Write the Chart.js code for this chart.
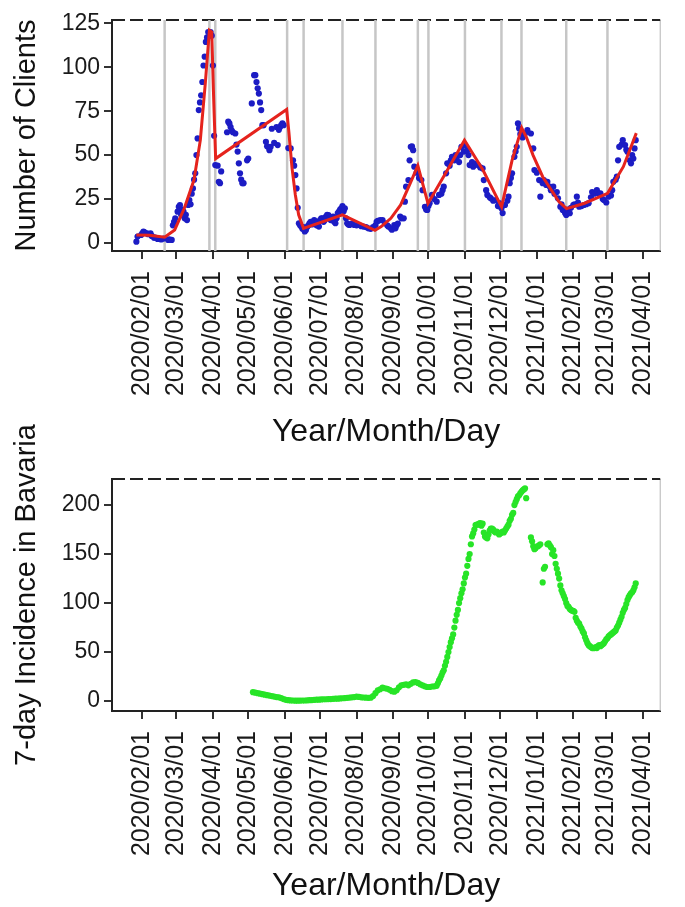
<!DOCTYPE html>
<html>
<head>
<meta charset="utf-8">
<script src="https://cdn.jsdelivr.net/npm/chart.js@4/dist/chart.umd.min.js"></script>
<style>
  html, body { margin: 0; padding: 0; background: #fff; }
  .panel { position: absolute; left: 0; width: 685px; }
  #top { top: 0; height: 453px; }
  #bottom { top: 400px; height: 507px; }
</style>
</head>
<body>
<div class="panel" id="top"><canvas id="clientsChart"></canvas></div>
<div class="panel" id="bottom"><canvas id="incidenceChart"></canvas></div>
<script>
// x values are days counted from 2020/02/01
const tickLabels = [
  "2020/02/01", "2020/03/01", "2020/04/01", "2020/05/01", "2020/06/01",
  "2020/07/01", "2020/08/01", "2020/09/01", "2020/10/01", "2020/11/01",
  "2020/12/01", "2021/01/01", "2021/02/01", "2021/03/01", "2021/04/01",
];
const clientTicks = [0, 25, 50, 75, 100, 125];
const incidenceTicks = [0, 50, 100, 150, 200];

// breakpoints of the segmented fit (grey vertical lines)
const breakDays = [19, 57, 62, 123, 137, 170, 198, 234, 243, 274, 305, 322, 360, 395];

// daily number of clients [day, count]
const clients = [
  [-5, 0.7], [-4, 3.6], [-1, 4.5], [0, 5.5], [1, 6.4], [2, 6], [4, 5.5], [5, 5], [7, 5.5],
  [8, 4], [10, 3], [11, 3], [13, 2.3], [15, 2.3], [16, 2], [18, 2.5], [22, 1.7], [23, 2],
  [25, 1.7], [26, 10], [27, 12], [28, 14], [30, 17.8], [31, 20.6], [32, 21.6], [33, 16],
  [34, 19], [35, 17.8], [36, 14], [37, 16], [38, 13], [39, 21.6], [40, 24.4], [41, 22],
  [42, 28], [43, 31], [44, 36], [45, 39.6], [46, 50], [47, 59.5], [48, 75.6], [49, 80],
  [50, 84], [51, 91.6], [52, 101], [53, 106], [54, 114.4], [55, 117], [56, 120], [58, 120],
  [59, 118], [60, 101], [61, 61], [62, 44.3],
  [64, 44], [65, 34.8], [66, 34], [67, 40.7], [72, 63], [73, 69], [74, 68], [75, 66],
  [76, 64], [77, 63], [79, 62.3], [80, 56], [81, 52], [82, 45.3], [83, 39.6], [84, 36],
  [85, 34], [86, 34], [89, 47], [90, 48], [93, 79.4], [95, 95.5], [96, 95.5], [97, 91.6],
  [98, 88], [99, 85], [100, 80], [101, 75.6], [102, 67], [103, 67], [105, 57.6], [106, 55],
  [107, 54.7], [108, 52.8], [109, 54.7], [110, 65], [112, 57], [114, 66], [115, 55.7],
  [116, 64.4], [117, 66], [118, 67], [119, 68], [120, 67],
  [124, 54], [126, 53.8], [128, 47], [129, 44], [130, 38.6], [131, 31], [132, 20],
  [133, 11.2], [134, 10], [135, 9.3], [136, 8],
  [137, 9], [138, 6.5], [139, 7.4], [140, 9], [141, 10], [142, 11.2], [143, 12], [144, 10.5],
  [145, 12.1], [146, 13], [147, 11], [148, 10], [149, 12], [150, 9.3], [151, 13], [152, 14],
  [153, 14], [154, 12], [155, 13], [156, 15], [157, 16], [158, 15.9], [159, 14], [160, 13],
  [161, 13], [162, 15], [163, 12], [164, 11.2], [165, 14], [166, 17], [167, 17.8], [168, 19],
  [169, 19.7], [170, 21], [171, 18], [172, 19.7], [173, 14], [174, 11.2], [175, 10.5],
  [176, 10.2], [178, 11], [180, 10.2], [182, 10], [184, 10.2], [186, 9.5], [188, 9.3],
  [190, 9], [192, 8.3], [194, 8], [196, 9], [198, 10], [199, 12], [200, 12.5], [202, 13],
  [204, 13], [206, 11.2], [208, 10], [209, 9.3], [211, 8.3], [212, 7.5], [214, 10.2],
  [215, 8.3], [216, 10], [217, 11], [219, 15], [220, 14], [222, 14], [223, 23.5], [224, 32],
  [226, 35.8], [227, 47], [228, 54.7], [229, 55], [230, 52.8], [231, 43.4], [233, 40],
  [235, 37], [237, 35.8], [238, 30], [240, 20.6], [241, 19], [242, 18.8], [243, 21],
  [244, 22.6], [246, 27.3], [248, 25], [250, 23.5], [252, 27.3], [254, 28], [255, 30],
  [256, 32], [258, 39.6], [259, 45.3], [261, 44], [262, 47], [263, 49], [265, 47], [266, 50],
  [267, 48.5], [269, 46], [270, 50], [271, 54.7], [273, 52], [274, 55.7], [276, 52.8],
  [277, 50], [278, 44.3], [280, 46], [281, 43.4], [283, 45], [285, 44.3], [287, 43],
  [289, 42.4], [290, 35.8], [292, 30], [293, 27.3], [295, 26], [296, 25.4], [298, 24],
  [300, 24.4], [302, 21], [303, 22.6], [305, 19.7], [306, 17], [308, 21.6], [310, 24],
  [311, 26.3], [312, 34], [313, 37], [314, 39.6], [316, 49], [317, 52], [318, 54.7],
  [319, 68], [320, 65.2], [321, 62], [323, 60], [325, 62.3], [327, 64.2], [330, 62.3],
  [332, 53.8], [333, 41.5], [335, 40], [337, 35.8], [338, 26.3], [340, 34], [341, 35.8],
  [343, 33], [344, 34.8], [346, 32], [347, 30], [349, 32], [350, 28], [352, 29], [353, 25.4],
  [355, 20.6], [356, 22], [357, 18.8], [359, 17], [360, 15.9], [361, 19], [362, 17],
  [363, 16.9], [364, 20], [366, 21.6], [367, 22], [369, 26.3], [370, 23], [371, 20.6],
  [373, 21], [375, 21.6], [377, 22], [379, 22.6], [381, 26], [382, 29], [384, 28], [386, 30],
  [388, 28], [389, 28.2], [391, 25], [392, 24.4], [394, 23], [396, 26.3], [398, 27],
  [399, 30], [400, 34.8], [402, 36], [403, 37.7], [404, 47], [405, 54.7], [407, 56],
  [408, 58.5], [410, 55.7], [411, 53], [412, 51.9], [414, 47], [415, 45.3], [416, 50],
  [417, 48], [418, 53.8], [419, 58.5],
];

// segmented fit (red line) [day, count]
const fit = [
  [-5, 4.5], [6, 4.3], [19, 3.2], [27.5, 7.4], [35.7, 19.7], [43.9, 35.8], [49.3, 58.5],
  [53.5, 90.7], [57, 121], [59, 120], [60.4, 87], [62.3, 48], [122.6, 76], [124.5, 63],
  [127.2, 42.4], [130, 27.3], [132.8, 16], [136.9, 8.3], [170, 16], [197.6, 7.2],
  [202.9, 9.3], [211.1, 14], [219.4, 21.6], [227.6, 34], [234, 44], [242.6, 22.5],
  [257.8, 40], [273.6, 58.5], [289.3, 41.5], [305.1, 20.5], [314, 47], [322.2, 65.5],
  [326.3, 60], [331.8, 50], [340, 37.7], [345.5, 32], [353.7, 23.5], [360.3, 19.5],
  [375.6, 22.6], [395.1, 28.2], [408.5, 43.4], [419.5, 62.5],
];

// 7-day incidence in Bavaria [day, value]
const incidence = [
  [94, 9], [96, 8.5], [98, 8], [100, 7.5], [102, 7], [104, 6.5], [106, 6], [108, 5.5],
  [110, 5], [112, 4.5], [114, 4], [116, 3.8], [118, 3], [120, 2], [122, 1.2], [124, 0.8],
  [126, 0.6], [128, 0.5], [130, 0.3], [132, 0.3], [134, 0.4], [136, 0.5], [138, 0.5],
  [140, 0.7], [142, 0.8], [144, 1], [146, 1.2], [148, 1.4], [150, 1.4], [152, 1.6],
  [154, 1.8], [156, 1.8], [158, 2], [160, 2], [162, 2.2], [164, 2.4], [166, 2.4], [168, 2.6],
  [170, 2.8], [172, 3], [174, 3.2], [176, 3.5], [178, 3.8], [180, 4], [182, 4.5], [184, 4.2],
  [186, 3.8], [188, 3.6], [190, 3.4], [192, 3.2], [194, 3.4], [196, 5], [198, 8], [200, 10.9],
  [202, 12], [204, 13.7], [206, 13], [208, 12.5], [210, 11.5], [212, 10], [214, 9.5],
  [216, 11], [218, 14], [220, 16], [222, 16.5], [224, 17], [226, 16], [228, 17.5], [230, 19],
  [232, 19.4], [234, 18.5], [236, 17], [238, 16], [240, 15], [242, 14.3], [244, 14.3],
  [246, 14.8], [248, 15], [250, 15.5], [251, 18], [252, 21], [253, 23], [254, 26], [255, 29],
  [256, 31.4], [257, 36], [258, 40], [259, 45], [260, 50], [261, 55], [262, 60], [263, 64],
  [264, 68], [265, 75], [266, 82], [267, 88], [268, 93], [269, 100], [270, 105], [271, 110],
  [272, 114], [273, 120], [274, 126], [275, 130], [276, 138], [277, 145], [278, 150],
  [279, 160], [280, 168], [281, 171], [282, 175], [283, 179.6], [284, 180], [285, 180],
  [286, 181], [287, 181.5], [288, 179], [289, 181], [290, 172], [291, 168], [292, 167],
  [293, 166], [294, 170], [295, 174], [296, 176], [297, 176], [298, 175], [299, 173],
  [300, 172], [301, 173], [302, 172], [303, 170], [304, 171], [305, 172], [306, 173],
  [307, 172], [308, 174], [309, 176], [310, 178], [311, 180], [312, 184], [313, 186],
  [314, 190], [315, 192], [316, 200], [317, 203], [318, 206], [319, 209], [320, 210],
  [321, 212], [322, 213.6], [323, 215], [324, 216], [325, 217], [326, 207],
  [330, 167], [331, 163], [332, 158], [333, 155], [334, 156], [336, 158], [337, 159],
  [338, 160], [340, 121], [341, 135], [342, 137], [344, 160], [345, 161], [346, 159],
  [347, 157], [348, 150], [349, 154], [350, 148], [351, 140], [352, 135], [353, 130],
  [354, 125], [355, 118], [356, 113], [357, 110], [358, 107], [359, 104], [360, 100],
  [361, 97], [362, 96], [363, 94], [364, 93], [365, 92], [366, 92], [367, 91], [368, 85],
  [369, 82], [370, 80], [371, 79], [372, 76], [373, 74], [374, 71], [375, 69], [376, 65],
  [377, 62], [378, 59], [379, 57], [380, 56], [381, 55], [382, 54], [383, 54], [384, 54],
  [385, 55], [386, 54], [387, 56], [388, 57], [389, 56], [390, 57], [391, 58], [392, 59],
  [393, 61], [394, 63], [395, 64], [396, 66], [397, 67], [398, 68], [399, 69], [400, 70],
  [401, 71], [402, 72], [403, 75], [404, 77], [405, 80], [406, 83], [407, 86], [408, 90],
  [409, 93], [410, 95], [411, 99], [412, 103], [413, 106], [414, 108], [415, 110],
  [416, 111], [417, 113], [418, 116], [419, 120],
];

const FONT = "'Liberation Sans', Arial, sans-serif";
const X_MIN = -25.7, X_MAX = 439.8;

function toDay(label) {
  const [y, m, d] = label.split("/").map(Number);
  return (Date.UTC(y, m - 1, d) - Date.UTC(2020, 1, 1)) / 864e5;
}
const tickDays = tickLabels.map(toDay);
const pts = (arr) => arr.map(([x, y]) => ({ x, y }));

// dashed top border + thin grey right border, like the ggplot panel
const framePlugin = {
  id: "frame",
  beforeDatasetsDraw(chart) {
    const { ctx, chartArea: a } = chart;
    ctx.save();
    ctx.strokeStyle = "#b5b5b5";
    ctx.lineWidth = 1;
    ctx.beginPath();
    ctx.moveTo(a.right, a.top);
    ctx.lineTo(a.right, a.bottom);
    ctx.stroke();
    ctx.strokeStyle = "#222";
    ctx.lineWidth = 2;
    ctx.setLineDash([13, 5]);
    ctx.beginPath();
    ctx.moveTo(a.left, a.top);
    ctx.lineTo(a.right, a.top);
    ctx.stroke();
    ctx.restore();
  },
};

function makeScales(yMin, yMax, yTicks, yTitle, xAxisHeight) {
  return {
    x: {
      type: "linear",
      min: X_MIN,
      max: X_MAX,
      afterBuildTicks: (s) => { s.ticks = tickDays.map((v) => ({ value: v })); },
      afterFit: (s) => { s.height = xAxisHeight; },
      ticks: {
        autoSkip: false,
        minRotation: 90,
        maxRotation: 90,
        padding: 12,
        color: "#1a1a1a",
        font: { family: FONT, size: 25 },
        callback: (v, i) => tickLabels[i],
      },
      grid: { drawOnChartArea: false, tickLength: 8, color: "#333", lineWidth: 2 },
      border: { display: true, color: "#222", width: 2 },
      title: {
        display: true,
        text: "Year/Month/Day",
        color: "#111",
        font: { family: FONT, size: 32 },
        padding: { top: 0, bottom: 2 },
      },
    },
    y: {
      type: "linear",
      min: yMin,
      max: yMax,
      afterBuildTicks: (s) => { s.ticks = yTicks.map((v) => ({ value: v })); },
      afterFit: (s) => { s.width = 112; },
      ticks: { padding: 4, color: "#1a1a1a", font: { family: FONT, size: 23 } },
      grid: { drawOnChartArea: false, tickLength: 8, color: "#333", lineWidth: 2 },
      border: { display: true, color: "#222", width: 2 },
      title: {
        display: true,
        text: yTitle,
        color: "#111",
        font: { family: FONT, size: 29 },
        padding: { top: 10, bottom: 0 },
      },
    },
  };
}

const baseOptions = (scales, padTop) => ({
  responsive: true,
  maintainAspectRatio: false,
  animation: false,
  layout: { padding: { top: padTop, right: 7, left: 0, bottom: 0 } },
  plugins: { legend: { display: false }, tooltip: { enabled: false } },
  scales,
});

// 1. Number of clients with segmented fit
const CLIENT_MIN = -4.6, CLIENT_MAX = 126.9;
new Chart(document.getElementById("clientsChart"), {
  type: "scatter",
  data: {
    datasets: [
      {
        label: "Segmented fit",
        data: pts(fit),
        showLine: true,
        borderColor: "#e5231d",
        borderWidth: 3,
        pointRadius: 0,
        tension: 0,
      },
      {
        label: "Clients",
        data: pts(clients),
        backgroundColor: "#1c1cc4",
        pointRadius: 3.1,
        pointBorderWidth: 0,
      },
      {
        label: "Breakpoints",
        data: breakDays.flatMap((d) => [
          { x: d, y: CLIENT_MIN }, { x: d, y: CLIENT_MAX }, { x: d, y: null },
        ]),
        showLine: true,
        spanGaps: false,
        borderColor: "#c6c6c6",
        borderWidth: 2.5,
        pointRadius: 0,
      },
    ],
  },
  options: baseOptions(
    makeScales(CLIENT_MIN, CLIENT_MAX, clientTicks, "Number of Clients", 202), 20
  ),
  plugins: [framePlugin],
});

// 2. 7-day incidence in Bavaria
new Chart(document.getElementById("incidenceChart"), {
  type: "scatter",
  data: {
    datasets: [
      {
        label: "7-day incidence",
        data: pts(incidence),
        backgroundColor: "#27e427",
        pointRadius: 3.1,
        pointBorderWidth: 0,
      },
    ],
  },
  options: baseOptions(
    makeScales(-10.2, 226.6, incidenceTicks, "7-day Incidence in Bavaria", 196), 79
  ),
  plugins: [framePlugin],
});
</script>
</body>
</html>
